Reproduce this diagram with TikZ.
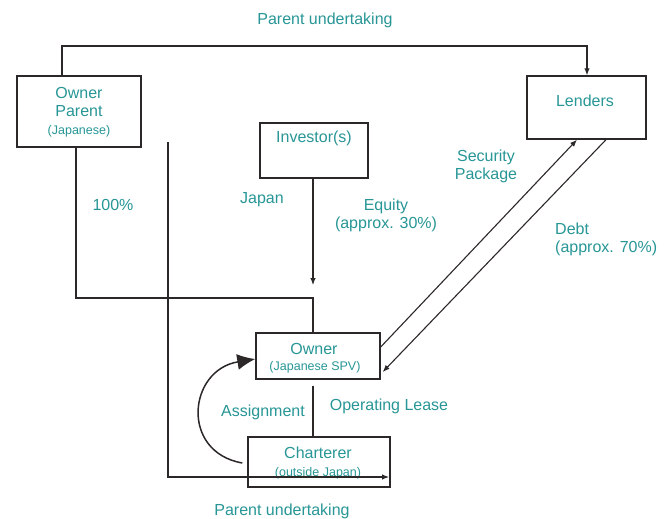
\documentclass[tikz,border=0pt]{standalone}
\usepackage{fontspec}
\setmainfont{Liberation Sans}
\usetikzlibrary{arrows.meta}
\definecolor{tealtxt}{RGB}{40,150,150}
\definecolor{linec}{RGB}{45,40,40}
\begin{document}
\begin{tikzpicture}[x=1pt,y=-1pt,
  box/.style={draw=linec, line width=1.4pt, inner sep=0pt},
  conn/.style={draw=linec, line width=1.1pt},
  arr/.style={conn, -{Latex[length=7pt,width=5.5pt]}},
  lbl/.style={text=tealtxt, inner sep=0pt, font=\fontsize{16}{18}\selectfont},
  sml/.style={text=tealtxt, inner sep=0pt, font=\fontsize{12.5}{14}\selectfont}]
\useasboundingbox (0,0) rectangle (670,519);
\fill[white] (0,0) rectangle (670,519);
% boxes
\node[box, minimum width=124pt, minimum height=71pt] (op) at (79,111.5) {};
\node[box, minimum width=119pt, minimum height=63pt] (len) at (586.5,107.5) {};
\node[box, minimum width=108pt, minimum height=55pt] (inv) at (314,150.5) {};
\node[box, minimum width=124pt, minimum height=46pt] (ow) at (318,356) {};
\node[box, minimum width=142pt, minimum height=50pt] (ch) at (319,462) {};
% box texts
\node[lbl] (opa) at (79,93) {Owner};
\node[lbl] (opb) at (79,111) {Parent};
\node[sml] (opc) at (79,131) {(Japanese)};
\node[lbl] (lent) at (585,101) {Lenders};
\node[lbl] (invt) at (314,138) {Investor(s)};
\node[lbl] (owa) at (314,349) {Owner};
\node[sml] (owb) at (315,367) {(Japanese SPV)};
\node[lbl] (cha) at (318,453) {Charterer};
\node[sml] (chb) at (318,473) {(outside Japan)};
% free labels
\node[lbl] (pu1) at (325,20) {Parent undertaking};
\node[lbl] (pc) at (113,205) {100\%};
\node[lbl] (jp) at (262,200) {Japan};
\node[lbl, align=center] (eq) at (386,215) {Equity\\(approx. 30\%)};
\node[lbl, align=center] (sp) at (486,166) {Security\\Package};
\node[lbl, align=left, anchor=west] (db) at (555,239) {Debt\\(approx. 70\%)};
\node[lbl] (as) at (263,412) {Assignment};
\node[lbl] (ol) at (389,406) {Operating Lease};
\node[lbl] (pu2) at (282,511) {Parent undertaking};
% coordinates
\coordinate (t1) at (62,46);
\coordinate (t2) at (587,46);
\coordinate (c1) at (76,298);
\coordinate (c2) at (313,298);
\coordinate (ia) at (313,285);
\coordinate (b0) at (168,142);
\coordinate (b1) at (168,477);
\coordinate (b2) at (389,477);
% connectors
\draw[arr] (op.north -| t1) -- (t1) -- (t2) -- (len.north -| t2);
\draw[arr] (inv.south -| ia) -- (ia);
\draw[conn] (op.south -| c1) -- (c1) -- (c2) -- (ow.north -| c2);
\draw[arr] (b0) -- (b1) -- (b2);
\draw[conn] ([yshift=-6pt]ow.south -| c2) -- (ch.north -| c2);
\draw[arr] ([yshift=9pt]ow.east) -- ([xshift=-9.5pt]len.south);
\draw[arr] ([xshift=19.5pt]len.south) -- ([xshift=2pt,yshift=-16pt]ow.east);
\draw[conn, line width=1.5pt, -{Latex[length=18pt,width=16pt]}] ([xshift=-5pt,yshift=-1pt]ch.west) .. controls (180,452) and (188,370) .. ([yshift=-3pt]ow.west);
\end{tikzpicture}
\end{document}
